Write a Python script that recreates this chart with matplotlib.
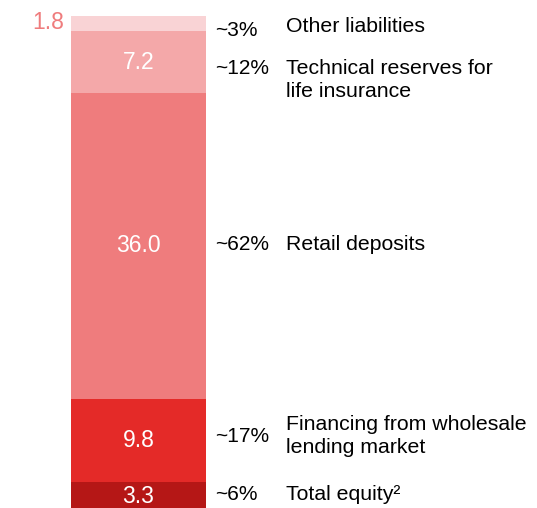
import matplotlib.pyplot as plt

plt.rcParams['font.family'] = ['Liberation Sans', 'DejaVu Sans']

# ── Data (bottom to top) ──────────────────────────────────────────────────────
values = [3.3, 9.8, 36.0, 7.2, 1.8]
value_labels = ['3.3', '9.8', '36.0', '7.2', '1.8']
shares = ['~6%', '~17%', '~62%', '~12%', '~3%']
names = ['Total equity²', 'Financing from wholesale\nlending market',
         'Retail deposits', 'Technical reserves for\nlife insurance', 'Other liabilities']
colors = ['#B51716', '#E42A28', '#EF7C7D', '#F4A8A9', '#F9D3D5']

# text rows (pixel y from top) for the right-hand annotations
share_rows = [495, 437, 245, 69, 30]
name_rows = [495, 436, 245, 80, 27]

W, H = 537, 508
fig = plt.figure(figsize=(W / 100, H / 100), dpi=100)
ax = fig.add_axes([0, 0, 1, 1])
ax.set_xlim(0, W)
ax.set_ylim(0.24, 60.0)
ax.axis('off')

bottom = 0
for i, (v, c) in enumerate(zip(values, colors)):
    ax.bar(138.5, v, width=135, bottom=bottom, color=c, linewidth=0)
    mid = bottom + v / 2
    if i == len(values) - 1:
        ax.text(64, bottom + v / 2 + 0.2, value_labels[i], ha='right', va='center',
                fontsize=16.5, color='#EF7C7D')
    else:
        ax.text(138.5, mid, value_labels[i], ha='center', va='center',
                fontsize=16.5, color='white')
    bottom += v

for s, n, ys, yn in zip(shares, names, share_rows, name_rows):
    fig.text(215 / W, 1 - ys / H, s, ha='left', va='center', fontsize=15, color='black')
    fig.text(286 / W, 1 - yn / H, n, ha='left', va='center', fontsize=15.3,
             color='black', linespacing=1.28)

plt.savefig('out.png', dpi=100)
